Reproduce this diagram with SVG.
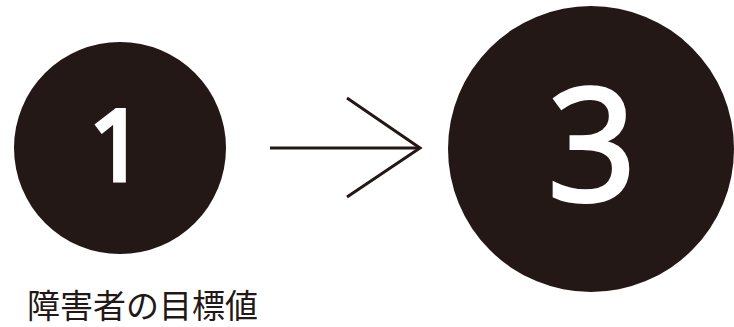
<svg xmlns="http://www.w3.org/2000/svg" width="734" height="327" viewBox="0 0 734 327">
<style>
.c{fill:#231815}
.n{fill:#fff;stroke:#fff;stroke-linejoin:miter;font-family:"Open Sans","Noto Sans","DejaVu Sans",sans-serif;text-anchor:middle}
.a{fill:none;stroke:#231815;stroke-width:3}
.l{fill:#231815;font-family:"Noto Sans CJK JP",sans-serif;font-size:33px}
</style>
<rect width="734" height="327" fill="#fff"/>
<g id="node1">
<circle class="c" cx="120" cy="148" r="106"/>
<text class="n" x="117" y="180" font-size="97" stroke-width="5">1</text>
</g>
<g id="node3">
<circle class="c" cx="591" cy="149" r="143"/>
<text class="n" x="592" y="200" font-size="155" stroke-width="4">3</text>
</g>
<g id="connectors">
<line class="a" x1="270" y1="148" x2="419" y2="148"/>
<polyline class="a" points="347,98 420,148 347,197"/>
</g>
<text class="l" x="27" y="318">障害者の目標値</text>
</svg>
